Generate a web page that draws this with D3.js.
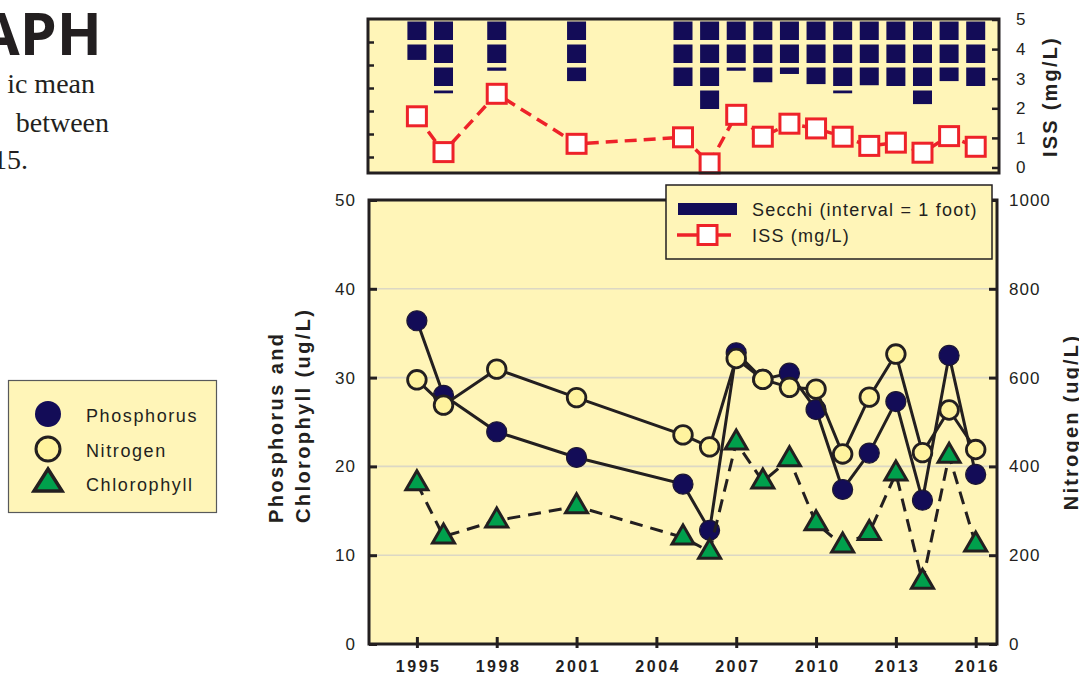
<!DOCTYPE html>
<html><head><meta charset="utf-8">
<script src="https://cdn.jsdelivr.net/npm/d3@7"></script>
<style>
body{margin:0;background:#fff;}
svg{display:block;font-family:"Liberation Sans",Arial,sans-serif;}
</style></head><body>
<svg id="c" width="1079" height="675"></svg>
<script>
// ---- data ----
const years = [1995,1996,1998,2001,2005,2006,2007,2008,2009,2010,2011,2012,2013,2014,2015,2016];
const phosphorus = [36.4,28.0,23.9,21.0,18.0,12.8,32.8,29.8,30.5,26.4,17.4,21.5,27.3,16.2,32.5,19.1];
const nitrogen = [595,538,619,555,471,444,643,596,578,574,428,556,653,431,527,438];
const chlorophyll = [18.1,12.1,13.9,15.5,12.0,10.4,22.7,18.3,20.8,13.6,11.1,12.5,19.2,7.0,21.2,11.2];
const iss = [1.73,0.52,2.49,0.80,1.02,0.14,1.78,1.04,1.48,1.32,1.04,0.73,0.84,0.50,1.06,0.70];
const secchi = [1.78,3.23,2.25,2.70,2.95,3.92,2.25,2.75,2.39,2.83,3.23,2.88,2.94,3.70,2.70,3.10];
const yearTicks = [1995,1998,2001,2004,2007,2010,2013,2016];
const leftTicks = [0,10,20,30,40,50];
const rightTicks = [0,200,400,600,800,1000];
const issTicks = [0,1,2,3,4,5];
const secchiTicks = [1,2,3,4,5,6];

const INK = "#231f20", BG = "#fff5b8", NAVY = "#130c57", PALE = "#fff39e", GREEN = "#00a04c", RED = "#ee2229";
const svg = d3.select("#c");
const fmt = d3.format("d");

// ---- page text ----
svg.append("text").attr("x",102).attr("y",55).attr("text-anchor","end")
  .attr("font-family","'Open Sans',sans-serif").attr("font-weight",700).attr("font-size",59)
  .attr("fill",INK).text("APH");
const bodyLines = [["ic mean",95,93],["between",109,131.5],["15.",28,168.5]];
bodyLines.forEach(b=>svg.append("text").attr("x",b[1]).attr("y",b[2]).attr("text-anchor","end")
  .attr("font-family","'Liberation Serif',serif").attr("font-size",28).attr("fill",INK).text(b[0]));

// ---- scales ----
const x = d3.scaleLinear().domain([1993.2,2016.8]).range([369,997]);
const yL = d3.scaleLinear().domain([0,50]).range([644,200]);
const yR = d3.scaleLinear().domain([0,1000]).range([644,200]);
const yI = d3.scaleLinear().domain([0,5]).range([167.5,19.5]);
const yS = d3.scaleLinear().domain([0,1]).range([19,42]);

// ---- top panel ----
const topG = svg.append("g");
topG.append("rect").attr("x",368).attr("y",19).attr("width",631).attr("height",154).attr("fill",BG);
years.forEach((yr,i)=>{
  const d = secchi[i];
  for(let k=0;k<Math.ceil(d);k++){
    const y0 = yS(k)+2.5, y1 = Math.min(yS(k+1)-2, yS(d));
    if(y1>y0) topG.append("rect").attr("x",x(yr)-9.5).attr("y",y0).attr("width",19).attr("height",y1-y0).attr("fill",NAVY);
  }
});
const issLine = d3.line().x((d,i)=>x(years[i])).y(d=>yI(d));
topG.append("path").attr("d",issLine(iss)).attr("fill","none").attr("stroke",RED)
  .attr("stroke-width",3.5).attr("stroke-dasharray","12,7");
topG.selectAll(".sq").data(iss).enter().append("rect")
  .attr("x",(d,i)=>x(years[i])-9.5).attr("y",d=>yI(d)-9.5).attr("width",19).attr("height",19)
  .attr("fill","#fff").attr("stroke",RED).attr("stroke-width",3);
topG.append("rect").attr("x",368).attr("y",19).attr("width",631).attr("height",154)
  .attr("fill","none").attr("stroke",INK).attr("stroke-width",3);
const sAx = topG.append("g").attr("transform","translate(368,0)")
  .call(d3.axisLeft(yS).tickValues(secchiTicks).tickSize(-6).tickFormat(""));
sAx.select(".domain").remove();
sAx.selectAll("line").attr("stroke",INK).attr("stroke-width",2.5);
const iAx = topG.append("g").attr("transform","translate(999,0)")
  .call(d3.axisRight(yI).tickValues(issTicks).tickSize(-7).tickPadding(17).tickFormat(fmt));
iAx.select(".domain").remove();
iAx.selectAll("line").attr("stroke",INK).attr("stroke-width",2.5);
iAx.selectAll("text").attr("font-size",17).attr("fill",INK).attr("font-family","'Liberation Sans',Arial,sans-serif");
svg.append("text").attr("transform","translate(1057,96.5) rotate(-90)").attr("text-anchor","middle")
  .attr("font-weight",700).attr("font-size",20).attr("letter-spacing",2.2).attr("fill",INK).text("ISS (mg/L)");

// ---- main panel ----
const mainG = svg.append("g");
mainG.append("rect").attr("x",369).attr("y",200).attr("width",628).attr("height",444).attr("fill",BG);
mainG.selectAll(".grid").data([10,20,30,40]).enter().append("line")
  .attr("x1",369).attr("x2",997).attr("y1",d=>yL(d)).attr("y2",d=>yL(d))
  .attr("stroke","#dcd8c4").attr("stroke-width",1.6);

const pLine = d3.line().x((d,i)=>x(years[i])).y(d=>yL(d));
const nLine = d3.line().x((d,i)=>x(years[i])).y(d=>yR(d));
mainG.append("path").attr("d",pLine(phosphorus)).attr("fill","none").attr("stroke",INK).attr("stroke-width",3);
mainG.selectAll(".p").data(phosphorus).enter().append("circle")
  .attr("cx",(d,i)=>x(years[i])).attr("cy",d=>yL(d)).attr("r",10)
  .attr("fill",NAVY).attr("stroke","#1d1733").attr("stroke-width",1.2);
mainG.append("path").attr("d",nLine(nitrogen)).attr("fill","none").attr("stroke",INK).attr("stroke-width",3);
mainG.selectAll(".n").data(nitrogen).enter().append("circle")
  .attr("cx",(d,i)=>x(years[i])).attr("cy",d=>yR(d)).attr("r",9.3)
  .attr("fill",PALE).attr("stroke",INK).attr("stroke-width",2.8);
mainG.append("path").attr("d",pLine(chlorophyll)).attr("fill","none").attr("stroke",INK)
  .attr("stroke-width",3).attr("stroke-dasharray","13,8");
const tri = "M0,-12.5L11,6.5L-11,6.5Z";
mainG.selectAll(".c").data(chlorophyll).enter().append("path")
  .attr("transform",(d,i)=>`translate(${x(years[i])},${yL(d)})`).attr("d",tri)
  .attr("fill",GREEN).attr("stroke",INK).attr("stroke-width",3).attr("stroke-linejoin","miter");

mainG.append("rect").attr("x",369).attr("y",200).attr("width",628).attr("height",444)
  .attr("fill","none").attr("stroke",INK).attr("stroke-width",3);

const lAx = mainG.append("g").attr("transform","translate(369,0)")
  .call(d3.axisLeft(yL).tickValues(leftTicks).tickSize(-8).tickPadding(13).tickFormat(fmt));
lAx.select(".domain").remove();
const rAx = mainG.append("g").attr("transform","translate(997,0)")
  .call(d3.axisRight(yR).tickValues(rightTicks).tickSize(-8).tickPadding(12).tickFormat(fmt));
rAx.select(".domain").remove();
[lAx,rAx].forEach(a=>{
  a.selectAll("line").attr("stroke",INK).attr("stroke-width",3);
  a.selectAll("text").attr("font-size",17).attr("letter-spacing",1).attr("fill",INK)
   .attr("font-family","'Liberation Sans',Arial,sans-serif");
});
const bAx = mainG.append("g").attr("transform","translate(0,644)")
  .call(d3.axisBottom(x).tickValues(yearTicks).tickSize(4).tickPadding(13).tickFormat(fmt));
bAx.select(".domain").remove();
bAx.selectAll("line").attr("y1",-7).attr("stroke",INK).attr("stroke-width",3);
bAx.selectAll("text").attr("font-size",16).attr("font-weight",700).attr("letter-spacing",2.5)
  .attr("dx",1.25).attr("fill",INK).attr("font-family","'Liberation Sans',Arial,sans-serif");

// axis titles
svg.append("text").attr("transform","translate(283,523) rotate(-90)").attr("text-anchor","start")
  .attr("font-weight",700).attr("font-size",20).attr("letter-spacing",2.4).attr("fill",INK).text("Phosphorus and");
svg.append("text").attr("transform","translate(310,523) rotate(-90)").attr("text-anchor","start")
  .attr("font-weight",700).attr("font-size",20).attr("letter-spacing",2.4).attr("fill",INK).text("Chlorophyll (ug/L)");
svg.append("text").attr("transform","translate(1078,422) rotate(-90)").attr("text-anchor","middle")
  .attr("font-weight",700).attr("font-size",20).attr("letter-spacing",2.2).attr("fill",INK).text("Nitrogen (ug/L)");

// ---- legend (secchi / ISS) ----
const lg = svg.append("g");
lg.append("rect").attr("x",666).attr("y",185).attr("width",326).attr("height",74)
  .attr("fill",BG).attr("stroke",INK).attr("stroke-width",1.5);
lg.append("rect").attr("x",678).attr("y",203).attr("width",59).attr("height",12).attr("fill",NAVY);
lg.append("line").attr("x1",677).attr("x2",731).attr("y1",235).attr("y2",235).attr("stroke",RED).attr("stroke-width",3.5);
lg.append("rect").attr("x",698).attr("y",225.5).attr("width",19).attr("height",19)
  .attr("fill","#fff").attr("stroke",RED).attr("stroke-width",3);
lg.append("text").attr("x",752).attr("y",216).attr("font-size",18).attr("letter-spacing",1.2).attr("fill",INK).text("Secchi (interval = 1 foot)");
lg.append("text").attr("x",752).attr("y",242).attr("font-size",18).attr("letter-spacing",1.2).attr("fill",INK).text("ISS (mg/L)");

// ---- legend (series) ----
const lg2 = svg.append("g");
lg2.append("rect").attr("x",8.5).attr("y",380.5).attr("width",208).attr("height",132)
  .attr("fill",BG).attr("stroke","#58595b").attr("stroke-width",1.2);
lg2.append("circle").attr("cx",48).attr("cy",414).attr("r",13).attr("fill",NAVY);
lg2.append("circle").attr("cx",48).attr("cy",449).attr("r",12).attr("fill",PALE).attr("stroke",INK).attr("stroke-width",3);
lg2.append("path").attr("d","M48,469L62,491L34,491Z").attr("fill",GREEN).attr("stroke",INK).attr("stroke-width",3.5);
[["Phosphorus",422],["Nitrogen",456.5],["Chlorophyll",490.5]].forEach(t=>
  lg2.append("text").attr("x",86).attr("y",t[1]).attr("font-size",18).attr("letter-spacing",1.6).attr("fill",INK).text(t[0]));
</script>
</body></html>
